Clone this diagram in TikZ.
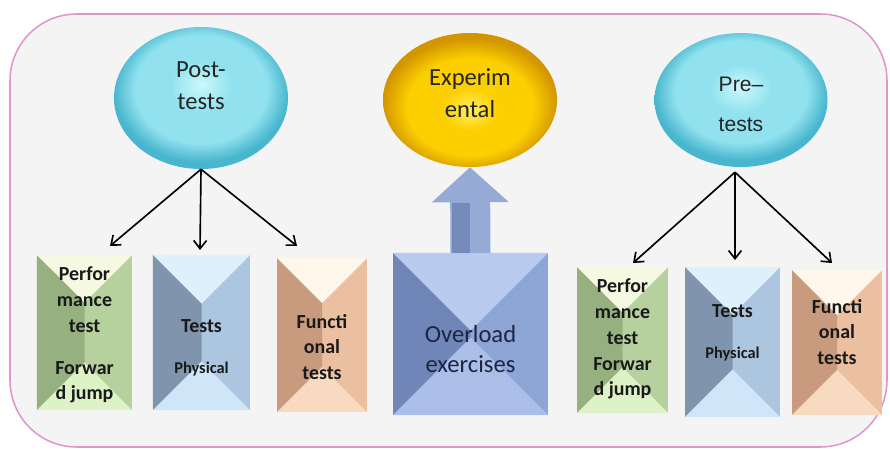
\documentclass[tikz,border=0pt]{standalone}
\usepackage{fontspec}
\setmainfont{Carlito}
\newfontfamily\arialfont{Liberation Sans}
\usetikzlibrary{calc,shapes.geometric,arrows.meta}

\definecolor{framepink}{RGB}{222,150,205}
\definecolor{framefill}{RGB}{244,244,244}
\definecolor{cyanin}{RGB}{205,248,252}
\definecolor{cyanmid}{RGB}{145,226,238}
\definecolor{cyanout}{RGB}{72,182,206}
\definecolor{goldin}{RGB}{255,238,100}
\definecolor{goldmid}{RGB}{252,208,0}
\definecolor{goldout}{RGB}{212,150,0}
% green boxes
\definecolor{grnleft}{RGB}{150,176,128}
\definecolor{grnmid}{RGB}{182,208,158}
\definecolor{grntop}{RGB}{246,249,226}
\definecolor{grnbot}{RGB}{222,242,200}
% blue boxes
\definecolor{bluleft}{RGB}{128,148,174}
\definecolor{blumid}{RGB}{172,198,224}
\definecolor{blutop}{RGB}{222,240,251}
\definecolor{blubot}{RGB}{206,230,248}
% orange boxes
\definecolor{orgleft}{RGB}{200,154,126}
\definecolor{orgmid}{RGB}{234,192,160}
\definecolor{orgtop}{RGB}{255,246,236}
\definecolor{orgbot}{RGB}{247,218,192}
% overload box
\definecolor{ovleft}{RGB}{112,134,184}
\definecolor{ovmid}{RGB}{142,166,214}
\definecolor{ovtop}{RGB}{184,202,238}
\definecolor{ovbot}{RGB}{170,190,232}
\definecolor{ovtext}{RGB}{28,38,66}
\definecolor{shaft}{RGB}{150,170,214}
\definecolor{shaftdark}{RGB}{118,138,188}

\pgfdeclareradialshading[cyanin,cyanmid,cyanout]{cyanball}{\pgfpoint{0bp}{5bp}}{%
  color(0bp)=(cyanin); color(9bp)=(cyanmid); color(19bp)=(cyanmid); color(25bp)=(cyanout); color(50bp)=(cyanout)}
\pgfdeclareradialshading[goldin,goldmid,goldout]{goldball}{\pgfpoint{0bp}{-4bp}}{%
  color(0bp)=(goldin); color(8bp)=(goldmid); color(18bp)=(goldmid); color(25bp)=(goldout); color(50bp)=(goldout)}

\newcommand\physfont{\bfseries\fontsize{14}{16}\selectfont}

\begin{document}
\begin{tikzpicture}[
    x=0.03cm,y=-0.03cm,
    >={Straight Barb[length=7pt,width=11pt]},
    bubble/.style={
        ellipse,
        inner sep=0pt,
        shading=#1
    },
    testbox/.style n args={4}{
        rectangle,
        inner sep=0pt,
        outer sep=0pt,
        fill=#2,
        path picture={
            \coordinate (tp) at ($(path picture bounding box.north)!1!90:(path picture bounding box.north west)$);
            \coordinate (bp) at ($(path picture bounding box.south)!1!-90:(path picture bounding box.south west)$);
            \fill[#1] (path picture bounding box.north west) -- (tp) -- (bp) -- (path picture bounding box.south west) -- cycle;
            \fill[#3] (path picture bounding box.north west) -- (path picture bounding box.north east) -- (tp) -- cycle;
            \fill[#4] (path picture bounding box.south west) -- (path picture bounding box.south east) -- (bp) -- cycle;
        }
    },
    link/.style={
        ->,
        line width=1.4pt
    },
    bubbletext/.style={align=center,font=\fontsize{21}{27}\selectfont,text=black!85},
    boxtext/.style={align=center,font=\bfseries\fontsize{17}{22}\selectfont,text=black!90}
    ]

  \useasboundingbox (0,0) rectangle (890,450);
  \draw[framepink,line width=1.3pt,fill=framefill,rounded corners=2cm] (10,14) rectangle (887,447);

  % the three bubbles
  \node[bubble=cyanball,minimum width=5.22cm,minimum height=4.26cm] (post) at (201,98) {};
  \node[bubble=goldball,minimum width=5.22cm,minimum height=4.02cm] (exper) at (470,100) {};
  \node[bubble=cyanball,minimum width=5.19cm,minimum height=4.02cm] (pre) at (741,100) {};

  \node[bubbletext] (post-txt) at (201,86) {Post-\\tests};
  \node[bubbletext] (exper-txt) at (470,93) {Experim\\ental};
  \node[bubbletext,font=\arialfont\fontsize{18}{34}\selectfont] (pre-txt) at (741,104) {Pre–\\tests};

  % boxes
  \node[testbox={grnleft}{grnmid}{grntop}{grnbot},minimum width=2.85cm,minimum height=4.65cm] (gl) at (84.5,332.5) {};
  \node[testbox={bluleft}{blumid}{blutop}{blubot},minimum width=2.91cm,minimum height=4.65cm] (bl) at (201.5,332.5) {};
  \node[testbox={orgleft}{orgmid}{orgtop}{orgbot},minimum width=2.7cm,minimum height=4.62cm] (ol) at (322,335) {};
  \node[testbox={ovleft}{ovmid}{ovtop}{ovbot},minimum width=4.65cm,minimum height=4.86cm] (ov) at (470.5,334) {};
  \node[testbox={grnleft}{grnmid}{grntop}{grnbot},minimum width=2.73cm,minimum height=4.38cm] (gr) at (622.5,340) {};
  \node[testbox={bluleft}{blumid}{blutop}{blubot},minimum width=2.85cm,minimum height=4.5cm] (br) at (732.5,342) {};
  \node[testbox={orgleft}{orgmid}{orgtop}{orgbot},minimum width=2.7cm,minimum height=4.35cm] (or) at (837,342.5) {};

  \node[boxtext] (gl-txt) at (84.5,335) {Perfor\\mance\\test\\[14pt]Forwar\\d jump};
  \node[boxtext] (bl-txt) at (201.5,348) {Tests\\[13pt]{\physfont Physical}};
  \node[boxtext] (ol-txt) at (322,347) {Functi\\onal\\tests};
  \node[bubbletext,text=ovtext,font=\fontsize{21}{26}\selectfont] (ov-txt) at (470.5,349) {Overload\\exercises};
  \node[boxtext] (gr-txt) at (622.5,339) {Perfor\\mance\\test\\Forwar\\d jump};
  \node[boxtext] (br-txt) at (732.5,333) {Tests\\[13pt]{\physfont Physical}};
  \node[boxtext] (or-txt) at (837,332) {Functi\\onal\\tests};

  % arrows
  \draw[link] (post.south) -- ([shift={(25.5,-9)}]gl.north);
  \draw[link] (post.south) -- ([shift={(-1.5,-5)}]bl.north);
  \draw[link] (post.south) -- ([shift={(-25,-12)}]ol.north);
  \draw[link] ([shift={(-6,5)}]pre.south) -- ([shift={(10.5,-4)}]gr.north);
  \draw[link] ([shift={(-6,5)}]pre.south) -- ([shift={(2.5,-7)}]br.north);
  \draw[link] ([shift={(-6,5)}]pre.south) -- ([shift={(-5,-7)}]or.north);

  \draw[line width=1.2cm,draw=shaft,-{Triangle[width=2.25cm,length=1.05cm]}] (ov.north) -- (exper.south);
  \draw[line width=0.54cm,draw=shaftdark] ([xshift=-0.28cm]ov.north) -- ++(0,-50);
\end{tikzpicture}
\end{document}
